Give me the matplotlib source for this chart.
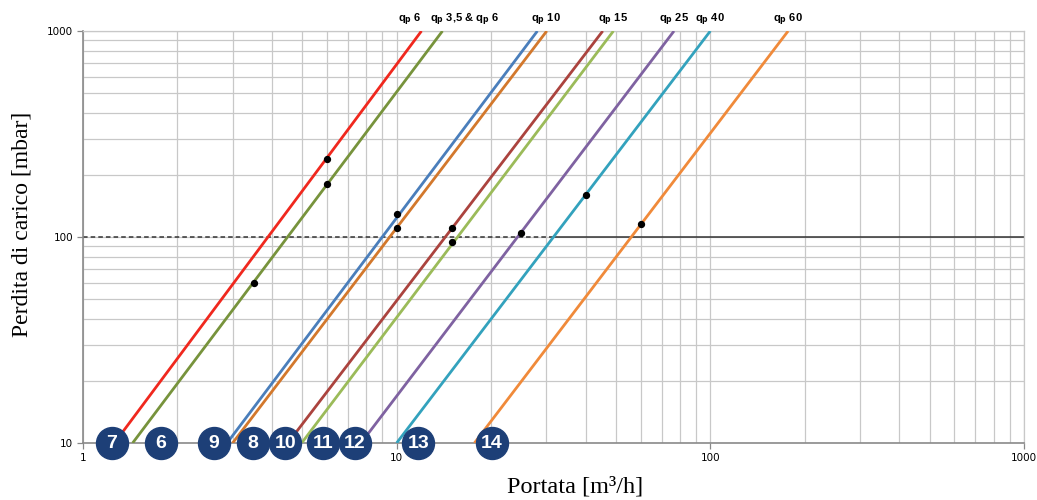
import numpy as np
import matplotlib
matplotlib.use("Agg")
import matplotlib.pyplot as plt
from matplotlib.ticker import LogLocator, NullFormatter, FixedLocator, FixedFormatter

# flow [m3/h] of each curve at 10 mbar and at 1000 mbar
q_at_10 = [1.26, 1.44, 2.88, 3.0, 4.5, 4.98, 7.7, 10.0, 17.7]
q_at_1000 = [12.0, 14.0, 28.1, 30.1, 45.4, 49.1, 76.6, 100.0, 177.0]
line_colors = ['#f0281e', '#77933c', '#4a7ebb', '#d3782c', '#ab433e',
               '#9bbb59', '#7f62a1', '#33a2bd', '#f08a3a']

# measured points (flow, pressure drop)
dot_q = [6.0, 6.0, 3.5, 10.0, 10.0, 15.0, 15.0, 25.0, 40.0, 60.0]
dot_dp = [240, 180, 60, 130, 110, 110, 95, 105, 160, 115]

# top labels
top_labels = [r"q$_\mathbf{p}$ 6", r"q$_\mathbf{p}$ 3,5 & q$_\mathbf{p}$ 6", r"q$_\mathbf{p}$ 10",
              r"q$_\mathbf{p}$ 15", r"q$_\mathbf{p}$ 25", r"q$_\mathbf{p}$ 40", r"q$_\mathbf{p}$ 60"]
top_label_q = [11.0, 16.5, 29.9, 48.9, 76.6, 99.7, 176.7]

# numbered badges along the 10 mbar line
badge_nums = ["7", "6", "9", "8", "10", "11", "12", "13", "14"]
badge_q = [1.235, 1.77, 2.62, 3.49, 4.41, 5.81, 7.36, 11.72, 20.1]

# reference pressure
ref_dp = 100
ref_dash_end = 32

fig = plt.figure(figsize=(10.37, 5.0), dpi=100)
ax = fig.add_axes([0.080, 0.114, 0.9075, 0.824])
ax.set_xscale('log')
ax.set_yscale('log')
ax.set_xlim(1, 1000)
ax.set_ylim(10, 1000)

ax.grid(True, which='both', color='#c8c8c8', lw=0.9, zorder=0)
ax.set_axisbelow(True)

ax.xaxis.set_major_locator(FixedLocator([1, 10, 100, 1000]))
ax.xaxis.set_major_formatter(FixedFormatter(["1", "10", "100", "1000"]))
ax.yaxis.set_major_locator(FixedLocator([10, 100, 1000]))
ax.yaxis.set_major_formatter(FixedFormatter(["10", "100", "1000"]))
ax.xaxis.set_minor_locator(LogLocator(base=10, subs=np.arange(2, 10)))
ax.yaxis.set_minor_locator(LogLocator(base=10, subs=np.arange(2, 10)))
ax.xaxis.set_minor_formatter(NullFormatter())
ax.yaxis.set_minor_formatter(NullFormatter())
ax.tick_params(which='minor', length=0)
ax.tick_params(which='major', length=4, width=0.9, color='#888888', labelsize=7.5, pad=3)

for side in ["top", "right"]:
    ax.spines[side].set_color('#c8c8c8')
    ax.spines[side].set_linewidth(0.9)
for side in ["left", "bottom"]:
    ax.spines[side].set_color('#8a8a8a')
    ax.spines[side].set_linewidth(1.2)

# reference line at 100 mbar
ax.plot([1, ref_dash_end], [ref_dp, ref_dp], color='#333333', lw=1.1, ls=(0, (3, 2)), zorder=2)
ax.plot([ref_dash_end, 1000], [ref_dp, ref_dp], color='#333333', lw=1.1, zorder=2)

for q0, q1, c in zip(q_at_10, q_at_1000, line_colors):
    ax.plot([q0, q1], [10, 1000], color=c, lw=2.0, zorder=3, solid_capstyle='butt')

ax.scatter(dot_q, dot_dp, s=18, color='black', zorder=5)

for lab, q in zip(top_labels, top_label_q):
    ax.text(q, 1000 * 1.035, lab, ha='center', va='bottom', fontsize=8,
            fontweight='bold', family='Liberation Sans')

ax.scatter(badge_q, [10] * len(badge_q), s=530, color='#1d3f77', zorder=6, clip_on=False)
for n, q in zip(badge_nums, badge_q):
    ax.text(q, 10, n, ha='center', va='center', fontsize=14, fontweight='bold',
            color='white', family='Liberation Sans', zorder=7, clip_on=False)

fig.text(0.555, 0.026, "Portata [m³/h]", ha='center', va='center',
         fontsize=17.5, family='Liberation Serif')
fig.text(0.021, 0.552, "Perdita di carico [mbar]", ha='center', va='center',
         rotation=90, fontsize=17, family='Liberation Serif')

fig.savefig("out.png", dpi=100)
